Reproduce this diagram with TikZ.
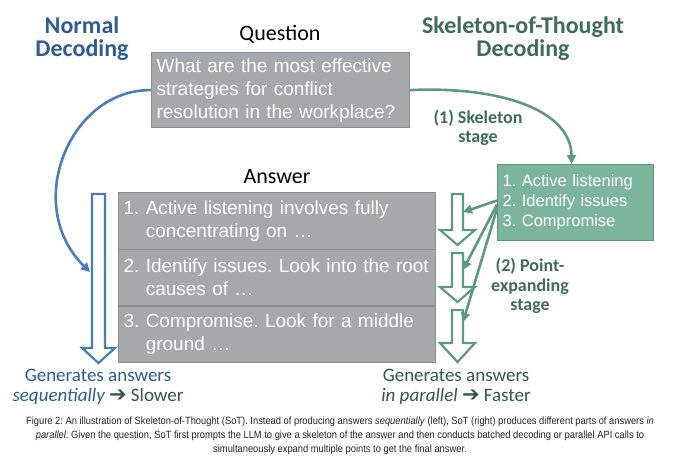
\documentclass[tikz,border=0pt]{standalone}
\usepackage{fontspec}
\setmainfont{Liberation Sans}
\newfontfamily\calibri{Carlito}
\newfontfamily\capfont{Liberation Sans}[FakeStretch=0.89]
\newfontfamily\symfont{DejaVu Sans}
\usetikzlibrary{arrows.meta}

\definecolor{ndblue}{HTML}{2F5C94}
\definecolor{lineblue}{HTML}{4A7DBA}
\definecolor{sotgreen}{HTML}{3F6E57}
\definecolor{linegreen}{HTML}{5E9980}
\definecolor{boxgray}{HTML}{A6A9AB}
\definecolor{edgegray}{HTML}{8C8F91}
\definecolor{skelfill}{HTML}{7DB59C}
\definecolor{skeledge}{HTML}{5E967E}
\definecolor{darkgreen}{HTML}{35584A}

\frenchspacing
\begin{document}
\begin{tikzpicture}[x=1pt, y=-1pt,
  title/.style={font=\calibri\fontsize{24}{23}\selectfont\bfseries, align=center},
  heading/.style={font=\calibri\fontsize{22}{24}\selectfont},
  stagelabel/.style={font=\calibri\fontsize{18}{19.5}\selectfont\bfseries, align=center, text=sotgreen},
  graybox/.style={draw=edgegray, fill=boxgray, line width=1.2pt, text=white, align=left,
    anchor=north west, inner xsep=5pt, inner ysep=0pt},
  skelbox/.style={draw=skeledge, fill=skelfill, line width=1.2pt, text=white, align=left,
    anchor=north west, inner xsep=5pt, inner ysep=0pt},
  hollow/.style={line width=2.2pt, fill=white},
  flow/.style={line width=2.6pt, -{Triangle[length=9pt,width=9pt]}},
  outcome/.style={font=\calibri\fontsize{19}{19.5}\selectfont, align=center},
]
  \path[fill=white] (0,0) rectangle (680,463);

  % Titles
  \node[title, text=ndblue] (normal) at (82,39) {Normal\\Decoding};
  \node[title, text=sotgreen] (sot) at (523,39) {Skeleton-of-Thought\\Decoding};
  \node[heading] (qlabel) at (280,34) {Question};
  \node[heading] (alabel) at (277,177) {Answer};

  % Question
  \node[graybox, minimum width=258, minimum height=75, text width=248,
    font=\fontsize{19}{23}\selectfont] (question) at (151,52)
    {What are the most effective\\strategies for conflict\\resolution in the workplace?};

  % Skeleton
  \node[skelbox, minimum width=156, minimum height=76, text width=146,
    font=\fontsize{16.5}{20}\selectfont] (skel) at (497,164)
    {1. Active listening\\2. Identify issues\\3. Compromise};

  % Answer rows
  \begin{scope}[every node/.style={graybox, minimum width=317, minimum height=56.7,
      text width=307, font=\fontsize{19}{23}\selectfont}]
    \node (ans1) at (118,192) {\mbox{1. Active listening involves fully}\\\phantom{1.\ }concentrating on …};
    \node (ans2) at (118,248.7) {\mbox{2. Identify issues. Look into the root}\\\phantom{2.\ }causes of …};
    \node (ans3) at (118,305.4) {\mbox{3. Compromise. Look for a middle}\\\phantom{3.\ }ground …};
  \end{scope}

  % Hollow arrows
  \draw[hollow, draw=lineblue] (92,194) -- (105,194) -- (105,348) -- (115,348)
    -- (98.5,363) -- (82,348) -- (92,348) -- cycle;
  \foreach \t/\h/\e in {194/230/245, 253/287/302, 310/343/362}
    \draw[hollow, draw=linegreen] (452,\t) -- (463,\t) -- (463,\h) -- (475,\h)
      -- (457.5,\e) -- (440,\h) -- (452,\h) -- cycle;

  \coordinate (ndin) at (90,272);
  \coordinate (pe1) at (463,212);
  \coordinate (pe2) at (463,270);
  \coordinate (pe3) at (463,322);

  % Connectors
  \draw[flow, draw=lineblue] (question.west) .. controls (70,89) and (22,205) .. (ndin);
  \draw[flow, draw=linegreen] (question.east) .. controls (500,86) and (571,110) .. ([xshift=-4pt]skel.north);
  \draw[flow, draw=linegreen] ([yshift=2pt]skel.west) -- (pe1);
  \draw[flow, draw=linegreen] ([yshift=-2pt]skel.west) -- (pe2);
  \draw[flow, draw=linegreen] ([yshift=-6pt]skel.west) -- (pe3);

  % Stage labels
  \node[stagelabel] (stage1) at (478,128) {(1) Skeleton\\stage};
  \node[stagelabel] (stage2) at (530,286) {(2) Point-\\expanding\\stage};

  % Outcomes
  \node[outcome] (slow) at (98,387)
    {\textcolor{ndblue}{Generates answers}\\\textcolor{ndblue}{\itshape sequentially}
     \textcolor{darkgreen}{{\symfont\bfseries\fontsize{21}{16}\selectfont ➔} Slower}};
  \node[outcome, text=darkgreen] (fast) at (456,387)
    {Generates answers\\{\itshape in parallel} {\symfont\bfseries\fontsize{21}{16}\selectfont ➔} Faster};

  % Caption
  \node[font=\capfont\fontsize{10.5}{14}\selectfont, text=black!85, align=center] (caption) at (340,436)
    {Figure 2: An illustration of Skeleton-of-Thought (SoT). Instead of producing answers \textit{sequentially} (left), SoT (right) produces different parts of answers \textit{in}\\
     \textit{parallel}. Given the question, SoT first prompts the LLM to give a skeleton of the answer and then conducts batched decoding or parallel API calls to\\
     simultaneously expand multiple points to get the final answer.};
\end{tikzpicture}
\end{document}
